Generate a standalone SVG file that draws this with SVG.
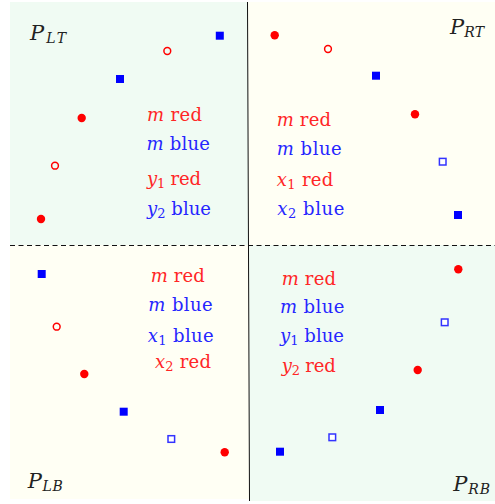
<svg xmlns="http://www.w3.org/2000/svg" xmlns:xlink="http://www.w3.org/1999/xlink" width="495" height="504" viewBox="0 0 495 504">
<style>
.bgG{fill:#f0fbf3}
.bgY{fill:#fffff4}
.lbl{font-size:18px;font-family:'DejaVu Serif', 'Liberation Serif', serif}
.r{fill:#ff2626}
.b{fill:#2626ff}
.i{font-style:italic}
.s{font-size:13px}
.P{font-size:21px;fill:#222;font-family:'DejaVu Serif', 'Liberation Serif', serif}
.Ps{font-size:14px;font-style:italic}
</style>
<defs>
<circle id="rf" r="4.2" fill="#ff0000"/>
<circle id="ro" r="3.4" fill="none" stroke="#ff0000" stroke-width="1.5"/>
<rect id="bf" x="-4" y="-4" width="8" height="8" fill="#0000ff"/>
<rect id="bo" x="-3.3" y="-3.3" width="6.6" height="6.6" fill="#fff" stroke="#3333ff" stroke-width="1.5"/>
</defs>
<rect x="0" y="0" width="495" height="504" fill="#fff"/>
<g id="backgrounds">
<rect class="bgG" x="10" y="2" width="238" height="243"/>
<rect class="bgY" x="248" y="2" width="247" height="243"/>
<rect class="bgY" x="10" y="245" width="239" height="254"/>
<rect class="bgG" x="249" y="245" width="246" height="256"/>
</g>
<g id="connectors">
<line x1="247.5" y1="2" x2="249.5" y2="501" stroke="#111" stroke-width="1"/>
<line x1="10" y1="245.5" x2="495" y2="245.5" stroke="#111" stroke-width="1" stroke-dasharray="5 3.5"/>
</g>
<g id="PLT">
<use xlink:href="#bf" x="219.8" y="35.7"/>
<use xlink:href="#ro" x="167.3" y="51"/>
<use xlink:href="#bf" x="120" y="79"/>
<use xlink:href="#rf" x="81.7" y="118"/>
<use xlink:href="#ro" x="55" y="165.7"/>
<use xlink:href="#rf" x="41" y="219"/>
<text class="P" x="30" y="40" textLength="36" lengthAdjust="spacing"><tspan class="i">P</tspan><tspan class="Ps" dy="3">LT</tspan></text>
<text class="lbl r" x="147" y="121" textLength="55" lengthAdjust="spacing"><tspan class="i">m</tspan> red</text>
<text class="lbl b" x="146.5" y="149.5" textLength="63.5" lengthAdjust="spacing"><tspan class="i">m</tspan> blue</text>
<text class="lbl r" x="147" y="185" textLength="54" lengthAdjust="spacing"><tspan class="i">y</tspan><tspan class="s" dy="3">1</tspan><tspan dy="-3"> red</tspan></text>
<text class="lbl b" x="147" y="215" textLength="64" lengthAdjust="spacing"><tspan class="i">y</tspan><tspan class="s" dy="3">2</tspan><tspan dy="-3"> blue</tspan></text>
</g>
<g id="PRT">
<use xlink:href="#rf" x="274.7" y="35.3"/>
<use xlink:href="#ro" x="328" y="49"/>
<use xlink:href="#bf" x="376" y="75.7"/>
<use xlink:href="#rf" x="415" y="114.3"/>
<use xlink:href="#bo" x="442.7" y="161.7"/>
<use xlink:href="#bf" x="458" y="215"/>
<text class="P" x="450" y="34.3" textLength="34" lengthAdjust="spacing"><tspan class="i">P</tspan><tspan class="Ps" dy="3">RT</tspan></text>
<text class="lbl r" x="276.7" y="126" textLength="54.3" lengthAdjust="spacing"><tspan class="i">m</tspan> red</text>
<text class="lbl b" x="276.7" y="155" textLength="65" lengthAdjust="spacing"><tspan class="i">m</tspan> blue</text>
<text class="lbl r" x="276.7" y="185.7" textLength="56.7" lengthAdjust="spacing"><tspan class="i">x</tspan><tspan class="s" dy="3">1</tspan><tspan dy="-3"> red</tspan></text>
<text class="lbl b" x="277.3" y="214.5" textLength="67" lengthAdjust="spacing"><tspan class="i">x</tspan><tspan class="s" dy="3">2</tspan><tspan dy="-3"> blue</tspan></text>
</g>
<g id="PLB">
<use xlink:href="#bf" x="41.7" y="274"/>
<use xlink:href="#ro" x="56.7" y="326.7"/>
<use xlink:href="#rf" x="84.3" y="374"/>
<use xlink:href="#bf" x="123.7" y="411.7"/>
<use xlink:href="#bo" x="171.3" y="439"/>
<use xlink:href="#rf" x="224.7" y="452.3"/>
<text class="P" x="27.7" y="488.3" textLength="35" lengthAdjust="spacing"><tspan class="i">P</tspan><tspan class="Ps" dy="3">LB</tspan></text>
<text class="lbl r" x="150.7" y="282.3" textLength="54" lengthAdjust="spacing"><tspan class="i">m</tspan> red</text>
<text class="lbl b" x="148.3" y="311" textLength="64.3" lengthAdjust="spacing"><tspan class="i">m</tspan> blue</text>
<text class="lbl b" x="147.7" y="341.7" textLength="66" lengthAdjust="spacing"><tspan class="i">x</tspan><tspan class="s" dy="3">1</tspan><tspan dy="-3"> blue</tspan></text>
<text class="lbl r" x="155" y="368.3" textLength="56" lengthAdjust="spacing"><tspan class="i">x</tspan><tspan class="s" dy="3">2</tspan><tspan dy="-3"> red</tspan></text>
</g>
<g id="PRB">
<use xlink:href="#rf" x="458.3" y="269.3"/>
<use xlink:href="#bo" x="444.7" y="322.3"/>
<use xlink:href="#rf" x="417.7" y="370"/>
<use xlink:href="#bf" x="380" y="410"/>
<use xlink:href="#bo" x="332.3" y="437.3"/>
<use xlink:href="#bf" x="280" y="451.7"/>
<text class="P" x="453.3" y="490.5" textLength="36.7" lengthAdjust="spacing"><tspan class="i">P</tspan><tspan class="Ps" dy="3">RB</tspan></text>
<text class="lbl r" x="281.7" y="285" textLength="54.3" lengthAdjust="spacing"><tspan class="i">m</tspan> red</text>
<text class="lbl b" x="280" y="312.7" textLength="64.3" lengthAdjust="spacing"><tspan class="i">m</tspan> blue</text>
<text class="lbl b" x="280" y="341.7" textLength="64" lengthAdjust="spacing"><tspan class="i">y</tspan><tspan class="s" dy="3">1</tspan><tspan dy="-3"> blue</tspan></text>
<text class="lbl r" x="281.7" y="371.7" textLength="54" lengthAdjust="spacing"><tspan class="i">y</tspan><tspan class="s" dy="3">2</tspan><tspan dy="-3"> red</tspan></text>
</g>
</svg>
